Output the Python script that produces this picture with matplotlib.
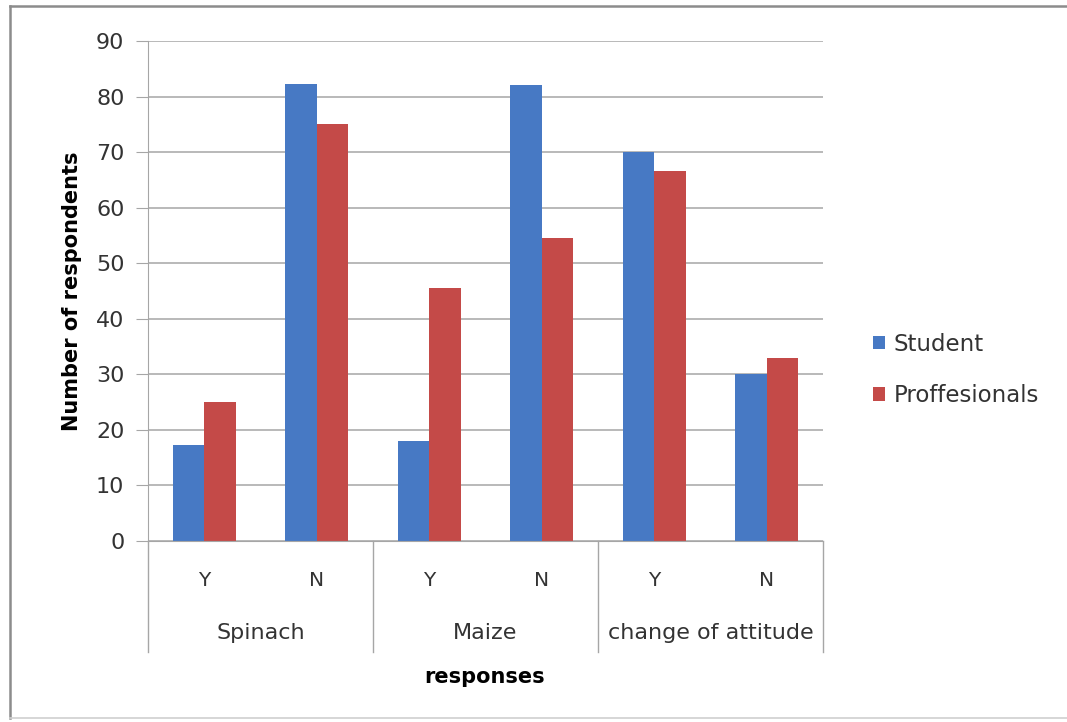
import matplotlib

matplotlib.use("Agg")
import matplotlib.pyplot as plt
from matplotlib.lines import Line2D
import numpy as np

plt.rcParams["font.family"] = ["DejaVu Sans"]

BLUE, RED, GRID, INK = "#4779c4", "#c44a48", "#a6a6a6", "#333333"

groups = ["Spinach", "Maize", "change of attitude"]
answers = ["Y", "N", "Y", "N", "Y", "N"]
student = [17.3, 82.3, 18, 82, 70, 30]
professionals = [25, 75, 45.5, 54.5, 66.6, 33]

fig = plt.figure(figsize=(10.67, 7.22), dpi=100)
ax = fig.add_axes([148 / 1067, 1 - 541 / 722, 675 / 1067, 500 / 722])

x = np.arange(len(answers))
w = 0.28
ax.bar(x - w / 2, student, w, color=BLUE, label="Student")
ax.bar(x + w / 2, professionals, w, color=RED, label="Proffesionals")

ax.set_xlim(-0.5, len(answers) - 0.5)
ax.set_ylim(0, 90)
ax.set_yticks(range(0, 91, 10))
ax.yaxis.grid(True, color=GRID, linewidth=1.1)
ax.set_axisbelow(True)
ax.tick_params(axis="y", length=9, color=GRID, labelsize=16, labelcolor=INK, pad=8)
ax.set_xticks([])
for s in ["top", "right"]:
    ax.spines[s].set_visible(False)
for s in ["left", "bottom"]:
    ax.spines[s].set_color(GRID)

# category axis: two-level labels and separators
tr = ax.get_xaxis_transform()
for sx in [-0.5, 1.5, 3.5, 5.5]:
    ax.plot([sx, sx], [0, -0.222], color=GRID, linewidth=1, transform=tr, clip_on=False)
for xi, a in zip(x, answers):
    ax.text(xi, -0.078, a, transform=tr, ha="center", va="center", fontsize=14.5, color=INK)
for gi, g in enumerate(groups):
    ax.text(gi * 2 + 0.5, -0.184, g, transform=tr, ha="center", va="center", fontsize=16, color=INK)

ax.set_ylabel("Number of respondents", fontsize=15, fontweight="bold", color="black", labelpad=10)
fig.text(485 / 1067, 1 - 677 / 722, "responses", ha="center", va="center",
         fontsize=15, fontweight="bold", color="black")

ax.legend(loc="center left", bbox_to_anchor=((852 - 148) / 675, (541 - 370) / 500), frameon=False,
          fontsize=16.5, handlelength=0.55, handleheight=0.55, labelspacing=1.25, handletextpad=0.35,
          labelcolor=INK)

# frame round the whole picture (right edge is cut off in the original)
border = dict(color="#8c8c8c", linewidth=1.8, transform=fig.transFigure)
fig.add_artist(Line2D([10 / 1067, 1], [1 - 6 / 722, 1 - 6 / 722], **border))
fig.add_artist(Line2D([10 / 1067, 10 / 1067], [1 - 6 / 722, 1 - 718 / 722], **border))
fig.add_artist(Line2D([10 / 1067, 1], [1 - 718 / 722, 1 - 718 / 722], color="#d0d0d0",
                      linewidth=1.2, transform=fig.transFigure))

fig.savefig("out.png", dpi=100)
